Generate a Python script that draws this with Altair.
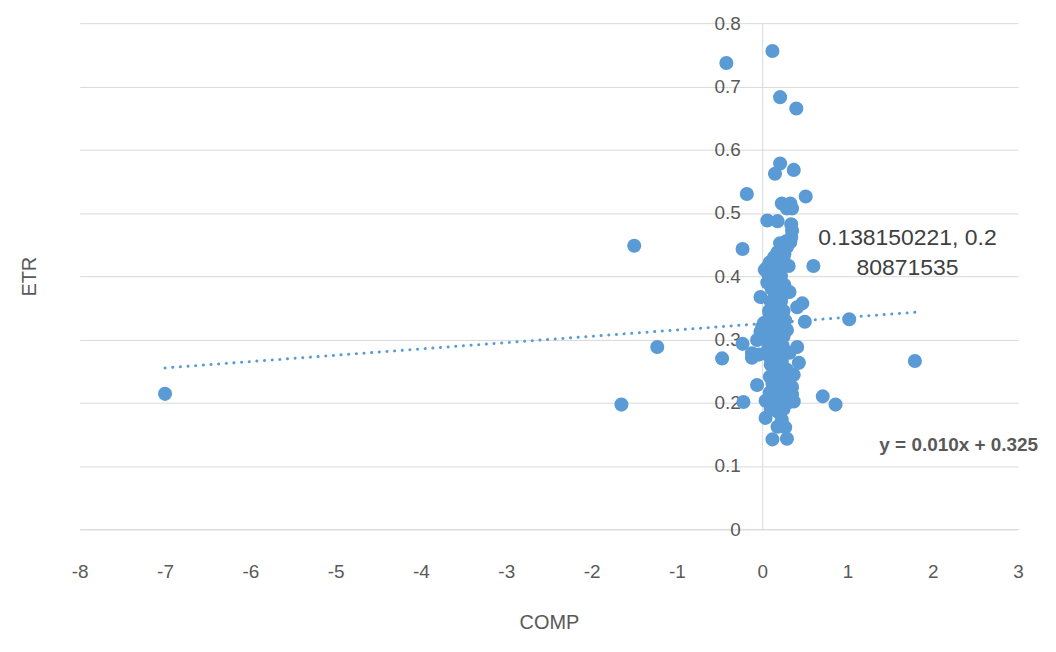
import altair as alt
import pandas as pd

# ---- data ----
comp = [-7.00, -1.50, -1.65, -1.23, -0.47, -0.42, -0.23, -0.18, -0.23, -0.22,
        -0.12, -0.12, -0.06, 0.12, 0.21, 0.40, 0.21, 0.15, 0.37, 0.51,
        0.23, 0.33, 0.29, 0.35, 0.06, 0.18, 0.34, 0.35, 0.34, 0.33,
        0.29, 0.23, 0.18, 0.14, 0.09, 0.06, 0.21, 0.31, 0.60, 0.12,
        0.06, 0.18, 0.26, -0.02, 0.15, 0.32, 0.47, 0.41, 0.18, 0.09,
        0.21, 0.50, 1.02, 0.02, -0.02, 0.14, 0.29, -0.06, 0.06, 0.21,
        0.41, -0.04, 0.32, 0.43, 0.09, 0.14, 0.29, 0.37, 0.09, 0.35,
        0.21, 0.09, 0.35, 0.26, 0.04, 0.37, 0.15, 0.71, 0.86, 1.79,
        0.18, 0.04, 0.23, 0.27, 0.18, 0.12, 0.29, 0.138150221,
        0.02, 0.05, 0.10, 0.12, 0.16, 0.20, 0.25, 0.08, 0.11, 0.17,
        0.24, 0.27, 0.05, 0.20, 0.23, 0.16, 0.10, 0.25, 0.20, 0.15,
        0.28, 0.24, 0.18, 0.12, 0.30, 0.27, 0.17, 0.22, 0.30, 0.10,
        0.25, 0.13, 0.10, 0.22, 0.25, 0.08, 0.16, 0.27, 0.12, 0.11,
        0.20, 0.24, 0.14, 0.08, 0.16, 0.22, 0.13, 0.25, 0.19, 0.03,
        0.28, 0.21, 0.26, 0.00]
etr = [0.214, 0.448, 0.197, 0.288, 0.270, 0.737, 0.443, 0.530, 0.293, 0.201,
       0.278, 0.271, 0.228, 0.756, 0.683, 0.665, 0.578, 0.562, 0.568, 0.526,
       0.515, 0.515, 0.507, 0.507, 0.488, 0.487, 0.482, 0.472, 0.461, 0.454,
       0.446, 0.444, 0.438, 0.430, 0.422, 0.414, 0.417, 0.416, 0.416, 0.417,
       0.390, 0.394, 0.386, 0.367, 0.367, 0.375, 0.357, 0.351, 0.351, 0.339,
       0.335, 0.328, 0.332, 0.326, 0.312, 0.320, 0.315, 0.299, 0.296, 0.294,
       0.288, 0.276, 0.279, 0.263, 0.272, 0.257, 0.252, 0.244, 0.241, 0.225,
       0.224, 0.216, 0.213, 0.210, 0.203, 0.202, 0.200, 0.210, 0.197, 0.266,
       0.186, 0.176, 0.173, 0.161, 0.162, 0.142, 0.143, 0.280871535,
       0.305, 0.315, 0.305, 0.310, 0.300, 0.310, 0.305, 0.290, 0.285, 0.285,
       0.290, 0.280, 0.280, 0.275, 0.265, 0.270, 0.260, 0.255, 0.250, 0.245,
       0.240, 0.235, 0.232, 0.230, 0.230, 0.220, 0.215, 0.205, 0.200, 0.190,
       0.190, 0.350, 0.360, 0.360, 0.345, 0.345, 0.330, 0.330, 0.325, 0.380,
       0.380, 0.370, 0.390, 0.400, 0.405, 0.400, 0.410, 0.425, 0.420, 0.410,
       0.455, 0.452, 0.435, 0.320]

labelled_x = [0.138150221]
labelled_y = [0.280871535]
labelled_text = ["0.138150221, 0.2\n80871535"]

trend_slope = 0.010
trend_intercept = 0.325
trend_text = ["y = 0.010x + 0.325"]

x_domain = [-8, 3]
y_domain = [0, 0.8]
x_ticks = [-8, -7, -6, -5, -4, -3, -2, -1, 0, 1, 2, 3]
y_ticks = [0, 0.1, 0.2, 0.3, 0.4, 0.5, 0.6, 0.7, 0.8]

# ---- layout ----
W, H = 942, 508
zero_px = W * (0 - x_domain[0]) / (x_domain[1] - x_domain[0])
BLUE = "#5b9bd5"
GRID = "#d9d9d9"
TXT = "#595959"
FONT = "Liberation Sans"

pts = pd.DataFrame({"COMP": comp, "ETR": etr})
xmin, xmax = min(comp), max(comp)
trend = pd.DataFrame({
    "COMP": [xmin, xmax],
    "ETR": [trend_slope * xmin + trend_intercept, trend_slope * xmax + trend_intercept],
})
trend_end = pd.DataFrame({
    "COMP": [xmax],
    "ETR": [trend_slope * xmax + trend_intercept],
    "t": trend_text,
})
lab = pd.DataFrame({"COMP": labelled_x, "ETR": labelled_y, "t": labelled_text})

xs = alt.Scale(domain=x_domain, nice=False, zero=False)
ys = alt.Scale(domain=y_domain, nice=False, zero=False)

x_axis = alt.Axis(values=x_ticks, grid=False, ticks=False, domainColor=GRID,
                  domainWidth=1, labelColor=TXT, labelFont=FONT, labelFontSize=19,
                  labelExpr="datum.value + ''", labelFlush=False,
                  labelPadding=33, title="COMP", titleFont=FONT, titleFontSize=20,
                  titleFontWeight="normal", titleColor=TXT, titlePadding=32)
y_axis = alt.Axis(values=y_ticks, grid=True, gridColor=GRID, gridWidth=1,
                  ticks=False, domainColor=GRID, domainWidth=1, offset=-zero_px,
                  labelColor=TXT, labelFont=FONT, labelFontSize=19, labelPadding=22,
                  labelFlush=False,
                  format=".1~f", title="ETR", titleFont=FONT, titleFontSize=20,
                  titleFontWeight="normal", titleColor=TXT, titleAngle=270,
                  titleAlign="center", titleBaseline="middle",
                  titleX=-50 - zero_px, titleY=H / 2)

points = alt.Chart(pts).mark_circle(size=200, color=BLUE, opacity=1).encode(
    x=alt.X("COMP:Q", scale=xs, axis=x_axis),
    y=alt.Y("ETR:Q", scale=ys, axis=y_axis),
)

line = alt.Chart(trend).mark_line(color=BLUE, strokeWidth=3, strokeDash=[0.1, 7.6],
                                  strokeCap="round").encode(
    x=alt.X("COMP:Q", scale=xs), y=alt.Y("ETR:Q", scale=ys))

eq = alt.Chart(trend_end).mark_text(dx=44, dy=133, fontSize=19, fontWeight="bold",
                                    font=FONT, color=TXT, align="center",
                                    baseline="middle").encode(
    x=alt.X("COMP:Q", scale=xs), y=alt.Y("ETR:Q", scale=ys), text="t:N")

label = alt.Chart(lab).mark_text(dx=134, dy=-114, fontSize=23, font=FONT,
                                 color="#404040", align="center", baseline="middle",
                                 lineBreak="\n", lineHeight=30).encode(
    x=alt.X("COMP:Q", scale=xs), y=alt.Y("ETR:Q", scale=ys), text="t:N")

chart = alt.layer(line, points, label, eq).properties(
    width=W, height=H,
    padding={"left": 72, "top": 14, "right": 30, "bottom": 110},
    autosize=alt.AutoSizeParams(type="none"),
).configure_view(stroke=None)

chart.save("out.html", embed_options={"renderer": "svg", "actions": False})
